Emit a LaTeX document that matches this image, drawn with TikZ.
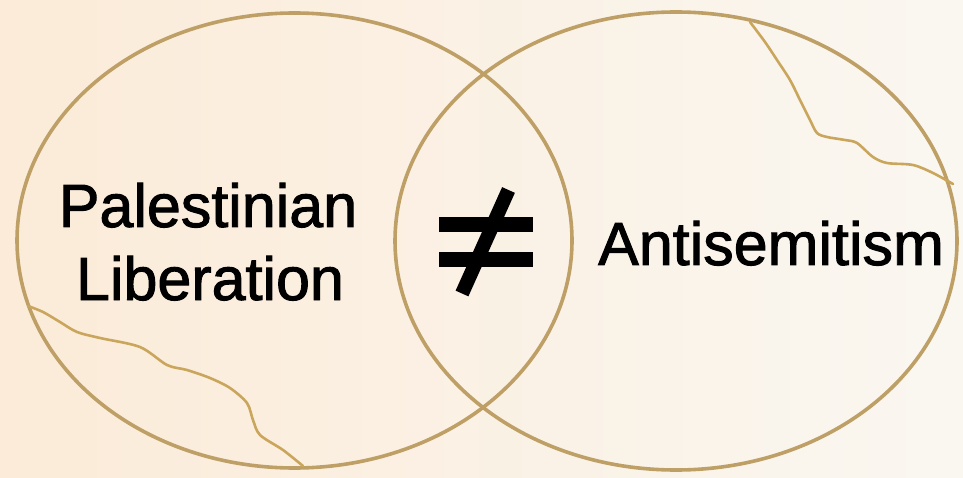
\documentclass[tikz,border=0pt]{standalone}
\usepackage{fontspec}
\setmainfont{Liberation Sans}
\newfontfamily\heavyfont[FakeBold=1.6]{Liberation Sans}
\usetikzlibrary{shapes.geometric}
\definecolor{bgleft}{RGB}{251,235,216}
\definecolor{bgright}{RGB}{250,247,241}
\definecolor{gold}{RGB}{190,160,102}
\definecolor{crack}{RGB}{202,166,92}
\tikzset{
  ring/.style={draw=gold, line width=3.6pt, ellipse, inner sep=0pt, outer sep=0pt},
  lbl/.style={font=\heavyfont\fontsize{61}{74}\selectfont, text=black, inner sep=0pt, anchor=base},
  crackline/.style={draw=crack, line width=2.6pt, line cap=round, line join=round},
  neqbar/.style={fill=black, draw=none}
}
\begin{document}
\begin{tikzpicture}[x=1pt,y=-1pt]
\useasboundingbox (0,0) rectangle (963,478);
\shade[left color=bgleft, right color=bgright] (0,0) rectangle (963,478);
% circles
\node[ring, minimum width=555pt, minimum height=455pt] (left) at (294.5,240.5) {};
\node[ring, minimum width=562pt, minimum height=458pt] (right) at (676,241) {};
% cracks
\draw[crackline] plot[smooth, tension=0.5] coordinates {(750,22) (765,42) (777,60) (790,80) (800,100) (810,120) (817,133) (827,137) (845,140) (857,143) (873,157) (887,163) (913,165) (933,173) (953,184)};
\draw[crackline] plot[smooth, tension=0.5] coordinates {(28,306) (43,312) (60,322) (77,332) (100,338) (140,347) (167,365) (187,370) (210,378) (230,388) (247,403) (253,420) (260,435) (283,450) (303,466)};
% labels
\node[lbl] (pal) at (208,227) {Palestinian};
\node[lbl] (lib) at (210,300) {Liberation};
\node[lbl] (anti) at (771,265) {Antisemitism};
% not-equal sign
\fill[neqbar] (439,217) rectangle (533,232);
\fill[neqbar] (439,252) rectangle (533,267);
\coordinate (slashtop) at (508.5,190);
\coordinate (slashbot) at (462,293.5);
\draw[black, line width=14pt, line cap=butt] (slashbot) -- (slashtop);
\end{tikzpicture}
\end{document}
